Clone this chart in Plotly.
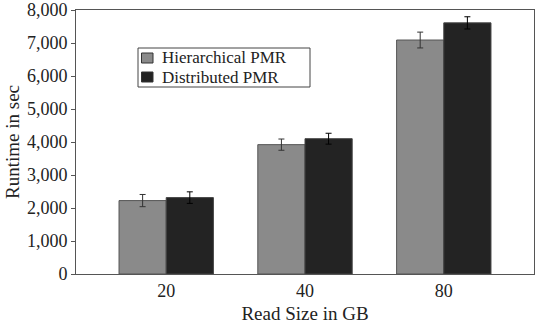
import plotly.graph_objects as go

categories = ["20", "40", "80"]
series_names = ["Hierarchical PMR", "Distributed PMR"]
hier = [2225, 3920, 7090]
hier_err = [185, 170, 240]
dist = [2315, 4100, 7610]
dist_err = [175, 165, 185]

colors = ["#8a8a8a", "#232323"]

fig = go.Figure()
fig.add_trace(go.Bar(
    name=series_names[0], x=categories, y=hier,
    marker=dict(color=colors[0], line=dict(color="#555555", width=1)),
    error_y=dict(type="data", array=hier_err, color="#333333", thickness=1, width=3),
))
fig.add_trace(go.Bar(
    name=series_names[1], x=categories, y=dist,
    marker=dict(color=colors[1], line=dict(color="#444444", width=1)),
    error_y=dict(type="data", array=dist_err, color="#000000", thickness=1, width=3),
))

fam = "Liberation Serif"
font = dict(family=fam, size=18, color="#222222")
tickfont = dict(family=fam, size=18, color="#222222")

# plot area geometry helpers (paper coords)
L, R, T, B, W, H = 76, 8, 10, 50, 542, 324
pw, ph = W - L - R, H - T - B
def px(x):
    return (x - L) / pw
def py(y):
    return (H - B - y) / ph

shapes = [dict(type="rect", xref="paper", yref="paper",
               x0=px(138), x1=px(310), y0=py(87), y1=py(48),
               line=dict(color="#444444", width=1), fillcolor="white", layer="above")]
annotations = []
row_y = [58, 77]
for i, name in enumerate(series_names):
    cy = row_y[i]
    shapes.append(dict(type="rect", xref="paper", yref="paper",
                       x0=px(141.5), x1=px(153), y0=py(cy + 5), y1=py(cy - 5),
                       line=dict(color="#333333", width=1), fillcolor=colors[i], layer="above"))
    annotations.append(dict(xref="paper", yref="paper", x=px(161), y=py(cy),
                            xanchor="left", yanchor="middle", showarrow=False, borderpad=0,
                            text=name, font=dict(family=fam, size=17, color="#222222")))

fig.update_layout(
    width=W, height=H,
    margin=dict(l=L, r=R, t=T, b=B),
    paper_bgcolor="white", plot_bgcolor="white",
    font=font,
    barmode="group", bargap=0.32, bargroupgap=0,
    showlegend=False,
    shapes=shapes, annotations=annotations,
    xaxis=dict(type="category", range=[-0.65, 2.65], showline=True, linecolor="#555555",
               linewidth=1, mirror=True, ticks="", tickfont=tickfont, automargin=False,
               title=dict(text="Read Size in GB", standoff=8, font=dict(family=fam, size=19)),
               showgrid=False),
    yaxis=dict(range=[0, 8000], tickvals=list(range(0, 8001, 1000)), tickformat=",",
               showline=True, linecolor="#555555", linewidth=1, mirror=True,
               ticks="outside", ticklen=4, tickcolor="#555555", showgrid=False,
               tickfont=tickfont, automargin=False, ticklabeloverflow="allow",
               title=dict(text="Runtime in sec", standoff=2, font=dict(family=fam, size=19)),
               zeroline=False),
)
fig.write_html("out.html")
